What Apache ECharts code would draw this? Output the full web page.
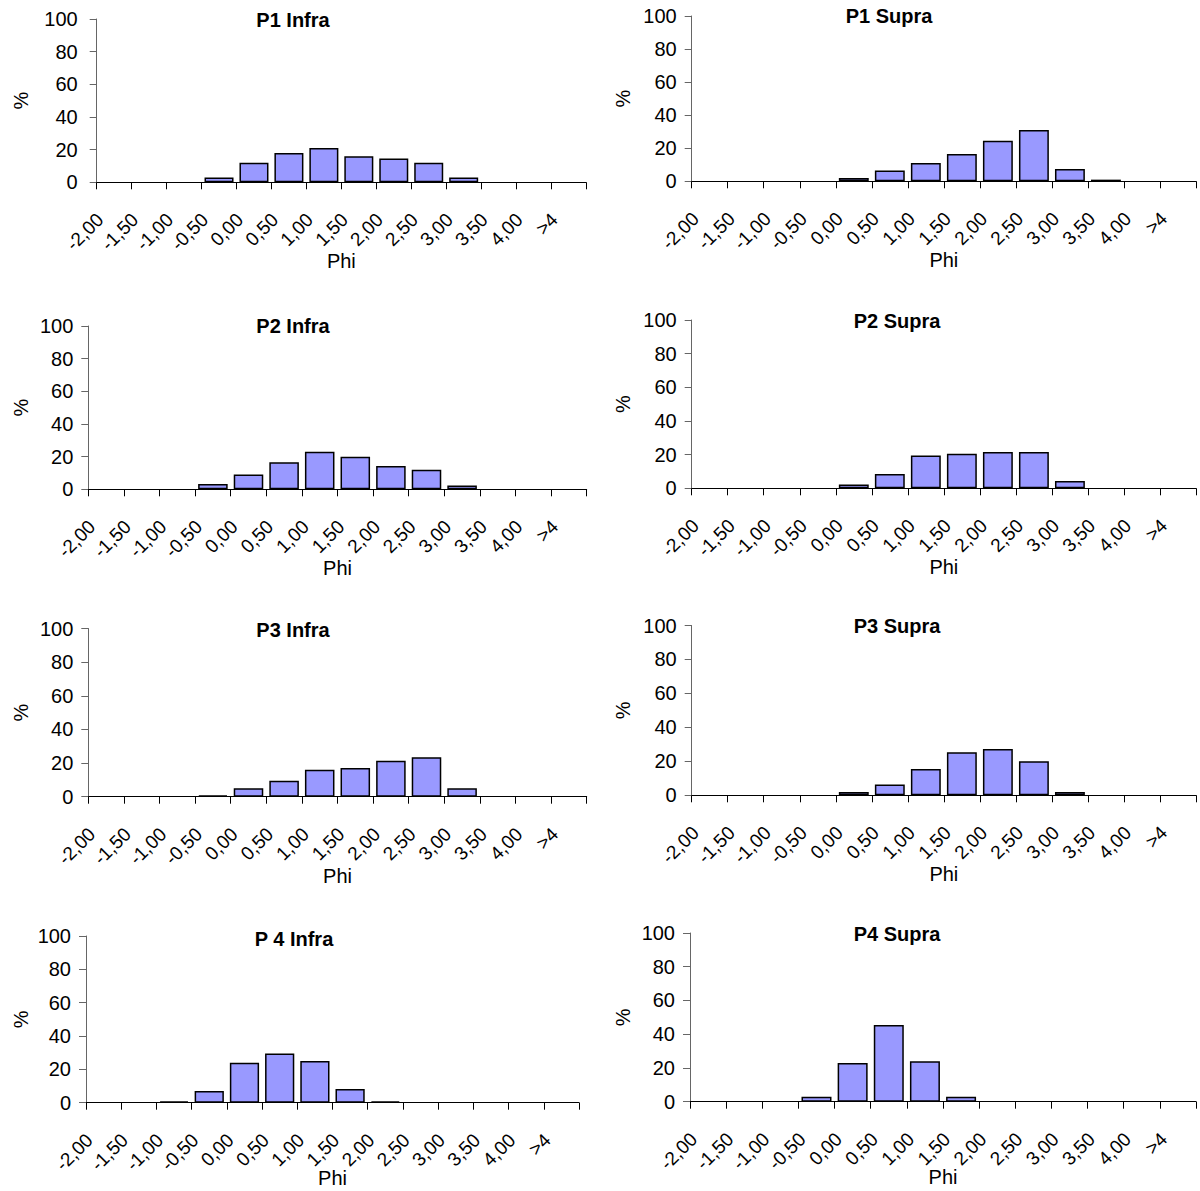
<!DOCTYPE html>
<html>
<head>
<meta charset="utf-8">
<script src="https://cdn.jsdelivr.net/npm/echarts@6/dist/echarts.min.js"></script>
<style>
html,body{margin:0;padding:0;background:#fff;}
#chart{width:1200px;height:1191px;}
</style>
</head>
<body>
<div id="chart"></div>
<script>
// Category labels (Phi classes)
var categories = ['-2,00','-1,50','-1,00','-0,50','0,00','0,50','1,00','1,50','2,00','2,50','3,00','3,50','4,00','>4'];
// Y tick values
var yTicks = [0, 20, 40, 60, 80, 100];
// Panel titles
var titles = ['P1 Infra','P1 Supra','P2 Infra','P2 Supra','P3 Infra','P3 Supra','P 4 Infra','P4 Supra'];
// Series values (%)
var p1Infra = [0,0,0,3,12,18,21,16,14.5,12,3,0,0,0];
var p1Supra = [0,0,0,0,2,6.5,11,16.5,24.5,31,7.5,1,0,0];
var p2Infra = [0,0,0,3.3,9,16.5,23,20,14.3,12,2.3,0,0,0];
var p2Supra = [0,0,0,0,2.3,8.5,19.5,20.5,21.5,21.5,4.3,0,0,0];
var p3Infra = [0,0,0,0.8,5,9.5,16,17,21.3,23.5,5,0,0,0];
var p3Supra = [0,0,0,0,2,6.3,15.5,25.3,27.2,20,2,0,0,0];
var p4Infra = [0,0,0.8,7,24,29.5,25,8.2,0.8,0,0,0,0,0];
var p4Supra = [0,0,0,3,23,45.5,24,3,0,0,0,0,0,0];
var seriesData = [p1Infra,p1Supra,p2Infra,p2Supra,p3Infra,p3Supra,p4Infra,p4Supra];

// Layout (pixels)
var grids = [
  {left:96.7, top:19,    width:489.3, height:163.3},
  {left:691.7, top:16,   width:504.3, height:165.3},
  {left:88.3, top:326,   width:498.4, height:163.3},
  {left:691.7, top:320,  width:504.3, height:168.3},
  {left:88.3, top:628.5, width:498.4, height:168.2},
  {left:691.7, top:625.5,width:504.3, height:169.8},
  {left:86,   top:936,   width:493,   height:166.7},
  {left:690,  top:933,   width:506,   height:168.7}
];
var titlePos = [
  {x:293, y:22}, {x:889, y:18},
  {x:293, y:328},{x:897, y:323},
  {x:293, y:632},{x:897, y:628},
  {x:294, y:941},{x:897, y:936}
];
var yLabelMargin = [19, 15, 15, 15, 15, 15, 15, 15];
var percentCenterX = [20.5, 623, 20.5, 623, 20.5, 623, 20.5, 623];
var phiGap = [69, 69, 69, 69, 69, 69, 65, 65];

var FONT = '"Liberation Sans", Arial, Helvetica, sans-serif';
var option = {
  backgroundColor:'#ffffff',
  animation:false,
  title:[], grid:[], xAxis:[], yAxis:[], series:[]
};
for (var i = 0; i < 8; i++) {
  var g = grids[i];
  option.grid.push({left:g.left, top:g.top, width:g.width, height:g.height, outerBoundsMode:'none', containLabel:false});
  option.title.push({
    text: titles[i], left: titlePos[i].x - 5, top: titlePos[i].y - 17, textAlign:'center',
    textStyle:{fontFamily:FONT, fontSize:20, fontWeight:'bold', color:'#000'}
  });
  option.xAxis.push({
    type:'category', gridIndex:i, data:categories,
    name:'Phi', nameLocation:'middle', nameGap:phiGap[i], nameMoveOverlap:false,
    nameTextStyle:{fontFamily:FONT, fontSize:20, color:'#000'},
    axisLine:{lineStyle:{color:'#000', width:1}},
    axisTick:{show:true, interval:0, length:7, lineStyle:{color:'#000', width:1}},
    axisLabel:{interval:0, rotate:45, margin:20, padding:[0,20,0,0], fontFamily:FONT, fontSize:19, color:'#000'},
    splitLine:{show:false}
  });
  option.yAxis.push({
    type:'value', gridIndex:i, min:yTicks[0], max:yTicks[yTicks.length-1], interval:yTicks[1]-yTicks[0],
    name:'%', nameLocation:'middle', nameGap: g.left - percentCenterX[i] - 10,
    nameTextStyle:{fontFamily:FONT, fontSize:20, color:'#000'},
    axisLine:{show:true, lineStyle:{color:'#666', width:1}},
    axisTick:{show:true, length:7, lineStyle:{color:'#666', width:1}},
    axisLabel:{margin:yLabelMargin[i], fontFamily:FONT, fontSize:20, color:'#000'},
    splitLine:{show:false}
  });
  option.series.push({
    type:'bar', xAxisIndex:i, yAxisIndex:i,
    data: seriesData[i].map(function(v){ return v === 0 ? null : v; }),
    barCategoryGap:'17%',
    itemStyle:{color:'#9999ff', borderColor:'#000', borderWidth:1.5},
    silent:true
  });
}
var chart = echarts.init(document.getElementById('chart'), null, {renderer:'svg'});
chart.setOption(option);
</script>
</body>
</html>
